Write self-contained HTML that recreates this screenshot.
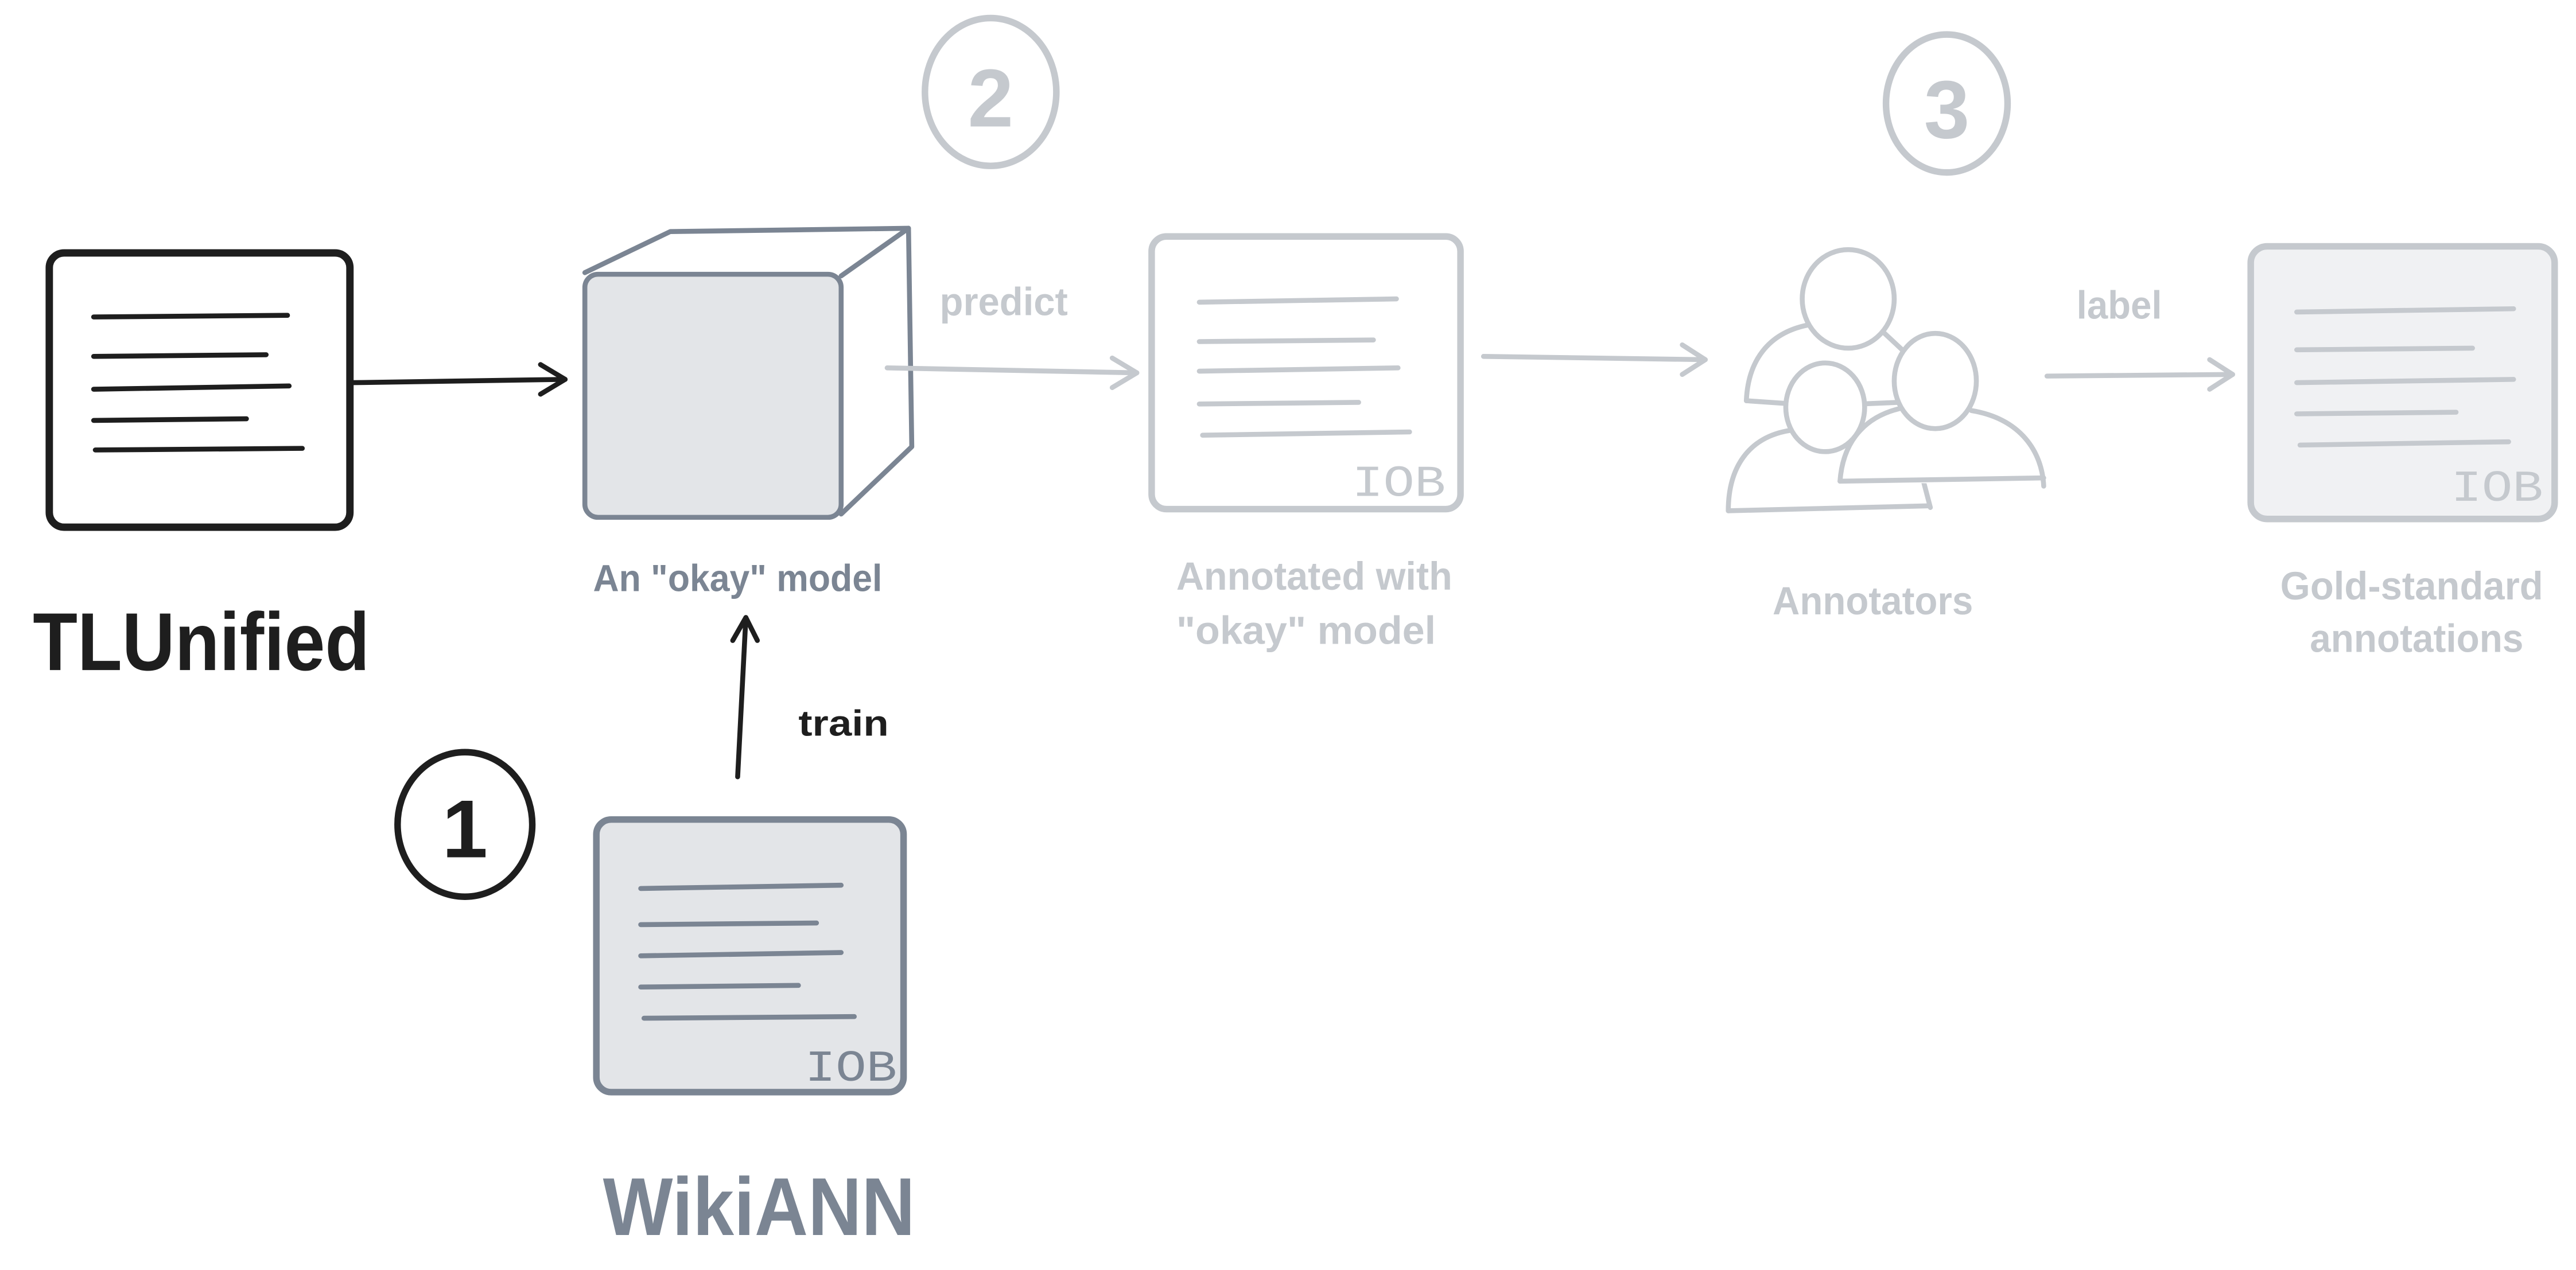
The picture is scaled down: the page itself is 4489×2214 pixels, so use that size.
<!DOCTYPE html>
<html><head><meta charset="utf-8"><style>
html,body{margin:0;padding:0;background:#fff;width:4489px;height:2214px;overflow:hidden}
svg{display:block}
text{font-family:"Liberation Sans Narrow","Liberation Sans",sans-serif;font-weight:bold}
.m{font-family:"Liberation Mono",monospace;font-weight:normal}
</style></head><body>
<svg width="4489" height="2214" viewBox="0 0 1568 773.3" preserveAspectRatio="none" xmlns="http://www.w3.org/2000/svg" stroke-linecap="round" stroke-linejoin="round" fill="none">
<!-- TLUnified doc -->
<rect x="30" y="154" width="183" height="167" rx="9" stroke="#1e1e1e" stroke-width="4.5" fill="#fff"/>
<g stroke="#1e1e1e" stroke-width="3"><line x1="57" y1="193" x2="175" y2="192"/><line x1="57" y1="217" x2="162" y2="216"/><line x1="57" y1="237" x2="176" y2="235"/><line x1="57" y1="256" x2="150" y2="255"/><line x1="58" y1="274" x2="184" y2="273"/></g>
<text x="20" y="408" font-size="50" fill="#1e1e1e" textLength="205" lengthAdjust="spacingAndGlyphs">TLUnified</text>
<!-- arrow -->
<g stroke="#1e1e1e" stroke-width="3"><line x1="215" y1="233" x2="344" y2="231"/><polyline points="329,222 344,231 329,240"/></g>
<!-- cube -->
<g stroke="#7b8593" stroke-width="3"><polyline points="356,166 408,141 553,139 512,168"/><polyline points="553,139 555,272 512,313"/>
<rect x="356" y="167" width="156" height="148" rx="8" fill="#e3e5e8"/></g>
<text x="449" y="360" font-size="23" fill="#7b8593" text-anchor="middle" textLength="176" lengthAdjust="spacingAndGlyphs">An "okay" model</text>
<!-- train arrow -->
<g stroke="#1e1e1e" stroke-width="3"><line x1="449" y1="473" x2="454" y2="376"/><polyline points="446,390 454,376 461,390"/></g>
<text x="486" y="448" font-size="22" fill="#1e1e1e" textLength="55" lengthAdjust="spacingAndGlyphs">train</text>
<!-- circle 1 -->
<ellipse cx="283" cy="502" rx="41" ry="44" stroke="#1e1e1e" stroke-width="4"/>
<text x="283" y="522" font-size="50" fill="#1e1e1e" text-anchor="middle">1</text>
<!-- WikiANN doc -->
<rect x="363" y="499" width="187" height="166" rx="9" stroke="#7b8593" stroke-width="4" fill="#e3e5e8"/>
<g stroke="#7b8593" stroke-width="3"><line x1="390" y1="541" x2="512" y2="539"/><line x1="390" y1="563" x2="497" y2="562"/><line x1="390" y1="582" x2="512" y2="580"/><line x1="390" y1="601" x2="486" y2="600"/><line x1="392" y1="620" x2="520" y2="619"/></g>
<text class="m" x="490" y="658" font-size="27" fill="#7b8593" textLength="56" lengthAdjust="spacingAndGlyphs">IOB</text>
<text x="462" y="752" font-size="50" fill="#7b8593" text-anchor="middle" textLength="190" lengthAdjust="spacingAndGlyphs">WikiANN</text>
<!-- circle 2 -->
<ellipse cx="603" cy="56" rx="40" ry="45" stroke="#c5c9ce" stroke-width="4"/>
<text x="603" y="77" font-size="50" fill="#c5c9ce" text-anchor="middle">2</text>
<text x="572" y="192" font-size="24" fill="#c5c9ce" textLength="78" lengthAdjust="spacingAndGlyphs">predict</text>
<g stroke="#c5c9ce" stroke-width="3"><line x1="540" y1="224" x2="692" y2="227"/><polyline points="677,218 692,227 677,236"/></g>
<!-- Annotated doc -->
<rect x="701" y="144" width="188" height="166" rx="9" stroke="#c5c9ce" stroke-width="4" fill="#fff"/>
<g stroke="#c5c9ce" stroke-width="3"><line x1="730" y1="184" x2="850" y2="182"/><line x1="730" y1="208" x2="836" y2="207"/><line x1="730" y1="226" x2="851" y2="224"/><line x1="730" y1="246" x2="827" y2="245"/><line x1="732" y1="265" x2="858" y2="263"/></g>
<text class="m" x="823" y="302" font-size="27" fill="#c5c9ce" textLength="57" lengthAdjust="spacingAndGlyphs">IOB</text>
<text x="800" y="359" font-size="24" fill="#c5c9ce" text-anchor="middle" textLength="168" lengthAdjust="spacingAndGlyphs">Annotated with</text>
<text x="795" y="392" font-size="24" fill="#c5c9ce" text-anchor="middle" textLength="158" lengthAdjust="spacingAndGlyphs">"okay" model</text>
<g stroke="#c5c9ce" stroke-width="3"><line x1="903" y1="217" x2="1038" y2="219"/><polyline points="1024,210 1038,219 1024,228"/></g>
<!-- circle 3 -->
<ellipse cx="1185" cy="63" rx="37" ry="42" stroke="#c5c9ce" stroke-width="4"/>
<text x="1185" y="84" font-size="50" fill="#c5c9ce" text-anchor="middle">3</text>
<!-- annotators icon -->
<g stroke="#c5c9ce" stroke-width="3" fill="#fff">
<path d="M1063,244 C1064,220 1076,203 1100,198"/>
<line x1="1063" y1="244" x2="1092" y2="246"/>
<line x1="1132" y1="246" x2="1156" y2="245"/>
<line x1="1145" y1="201" x2="1160" y2="215"/>
<ellipse cx="1125" cy="182" rx="28" ry="30"/>
<path d="M1052,311 C1052,285 1064,266 1090,262 L1140,262 L1170,290 L1175,309 Z" stroke="none"/>
<path d="M1052,311 C1052,285 1064,266 1090,262"/>
<line x1="1052" y1="311" x2="1174" y2="308"/><line x1="1170" y1="290" x2="1175" y2="309"/>
<ellipse cx="1111" cy="248" rx="24" ry="27"/>
<path d="M1120,293 C1122,266 1138,252 1160,248 L1200,250 C1230,255 1243,275 1244,296 Z" stroke="none"/>
<path d="M1120,293 C1122,266 1138,252 1160,248"/>
<path d="M1200,250 C1230,255 1243,275 1244,296"/>
<line x1="1120" y1="293" x2="1244" y2="291"/>
<ellipse cx="1178" cy="232" rx="25" ry="29"/>
</g>
<text x="1140" y="374" font-size="24" fill="#c5c9ce" text-anchor="middle" textLength="122" lengthAdjust="spacingAndGlyphs">Annotators</text>
<text x="1264" y="194" font-size="24" fill="#c5c9ce" textLength="52" lengthAdjust="spacingAndGlyphs">label</text>
<g stroke="#c5c9ce" stroke-width="3"><line x1="1246" y1="229" x2="1359" y2="228"/><polyline points="1345,219 1359,228 1345,237"/></g>
<!-- Gold doc -->
<rect x="1370" y="150" width="185" height="166" rx="10" stroke="#c5c9ce" stroke-width="4" fill="#f0f1f3"/>
<g stroke="#c5c9ce" stroke-width="3"><line x1="1398" y1="190" x2="1530" y2="188"/><line x1="1398" y1="213" x2="1505" y2="212"/><line x1="1398" y1="233" x2="1530" y2="231"/><line x1="1398" y1="252" x2="1495" y2="251"/><line x1="1400" y1="271" x2="1527" y2="269"/></g>
<text class="m" x="1492" y="305" font-size="27" fill="#c5c9ce" textLength="56" lengthAdjust="spacingAndGlyphs">IOB</text>
<text x="1468" y="365" font-size="24" fill="#c5c9ce" text-anchor="middle" textLength="160" lengthAdjust="spacingAndGlyphs">Gold-standard</text>
<text x="1471" y="397" font-size="24" fill="#c5c9ce" text-anchor="middle" textLength="130" lengthAdjust="spacingAndGlyphs">annotations</text>
</svg>
</body></html>
